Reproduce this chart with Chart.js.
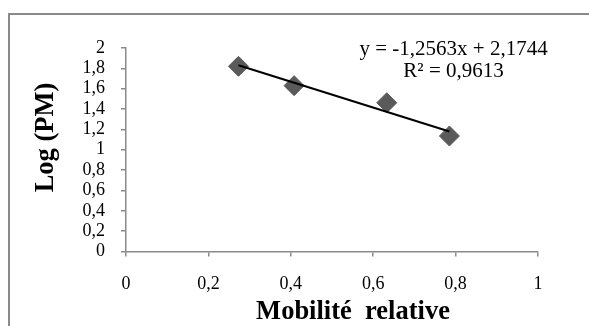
<!DOCTYPE html>
<html>
<head>
<meta charset="utf-8">
<script src="https://cdn.jsdelivr.net/npm/chart.js@4/dist/chart.umd.min.js"></script>
<style>
  html, body { margin: 0; padding: 0; background: #ffffff; }
  #wrap { width: 589px; height: 326px; position: relative; }
</style>
</head>
<body>
<div id="wrap"><canvas id="c" width="589" height="326"></canvas></div>
<script>
// ---- data ----
const mobility = [0.273, 0.408, 0.633, 0.785];
const logPM = [1.82, 1.63, 1.462, 1.135];
const trendX = [0.273, 0.785];
const trendY = [1.83, 1.18];
const xTickLabels = ['0', '0,2', '0,4', '0,6', '0,8', '1'];
const yTickLabels = ['0', '0,2', '0,4', '0,6', '0,8', '1', '1,2', '1,4', '1,6', '1,8', '2'];
const equationLines = ['y = -1,2563x + 2,1744', 'R² = 0,9613'];
const xTitle = 'Mobilité  relative';
const yTitle = 'Log (PM)';

const SERIF = '"Liberation Serif", "Times New Roman", serif';

const framePlugin = {
  id: 'frame',
  beforeDraw(chart) {
    const ctx = chart.ctx;
    ctx.save();
    ctx.fillStyle = '#ffffff';
    ctx.fillRect(0, 0, chart.width, chart.height);
    ctx.strokeStyle = '#8a8a8a';
    ctx.lineWidth = 2;
    ctx.beginPath();
    ctx.moveTo(9, chart.height + 5);
    ctx.lineTo(9, 14);
    ctx.lineTo(chart.width + 5, 14);
    ctx.stroke();
    ctx.restore();
  },
  afterDraw(chart) {
    const ctx = chart.ctx;
    const xs = chart.scales.x, ys = chart.scales.y;
    ctx.save();
    ctx.fillStyle = '#000000';
    // equation label
    ctx.font = '21px ' + SERIF;
    ctx.textAlign = 'center';
    ctx.textBaseline = 'middle';
    const ex = xs.getPixelForValue(0.795);
    ctx.fillText(equationLines[0], ex, ys.getPixelForValue(1.99));
    ctx.fillText(equationLines[1], ex, ys.getPixelForValue(1.77));
    // axis titles
    ctx.font = 'bold 26.5px ' + SERIF;
    ctx.fillText(xTitle, xs.getPixelForValue(0.551), 312);
    ctx.save();
    ctx.translate(46, ys.getPixelForValue(1.12));
    ctx.rotate(-Math.PI / 2);
    ctx.fillText(yTitle, 0, 0);
    ctx.restore();
    ctx.restore();
  }
};

new Chart(document.getElementById('c'), {
  type: 'scatter',
  data: {
    datasets: [
      {
        type: 'line',
        label: 'Trend',
        data: trendX.map((x, i) => ({ x: x, y: trendY[i] })),
        borderColor: '#000000',
        borderWidth: 2,
        pointRadius: 0,
        fill: false,
        order: 0
      },
      {
        label: 'Log (PM)',
        data: mobility.map((x, i) => ({ x: x, y: logPM[i] })),
        pointStyle: 'rectRot',
        pointRadius: 10,
        pointBackgroundColor: '#5a5a5a',
        pointBorderColor: '#5a5a5a',
        pointBorderWidth: 1,
        order: 1
      }
    ]
  },
  plugins: [framePlugin],
  options: {
    responsive: false,
    animation: false,
    events: [],
    layout: { padding: { left: 0, top: 48, right: 51, bottom: 0 } },
    plugins: { legend: { display: false }, tooltip: { enabled: false } },
    scales: {
      x: {
        type: 'linear',
        min: 0, max: 1,
        afterFit: s => { s.height = 74.5; },
        ticks: {
          stepSize: 0.2,
          autoSkip: false,
          maxRotation: 0,
          padding: 17,
          color: '#000000',
          font: { family: SERIF, size: 18 },
          callback: (v, i) => xTickLabels[i]
        },
        grid: { drawOnChartArea: false, drawTicks: true, tickLength: 5, color: '#8a8a8a', lineWidth: 1.5 },
        border: { color: '#8a8a8a', width: 1.5 }
      },
      y: {
        type: 'linear',
        min: 0, max: 2,
        afterFit: s => { s.width = 126; },
        ticks: {
          stepSize: 0.2,
          autoSkip: false,
          padding: 16,
          color: '#000000',
          font: { family: SERIF, size: 18 },
          callback: (v, i) => yTickLabels[i]
        },
        grid: { drawOnChartArea: false, drawTicks: true, tickLength: 5, color: '#8a8a8a', lineWidth: 1.5 },
        border: { color: '#8a8a8a', width: 1.5 }
      }
    }
  }
});
</script>
</body>
</html>
